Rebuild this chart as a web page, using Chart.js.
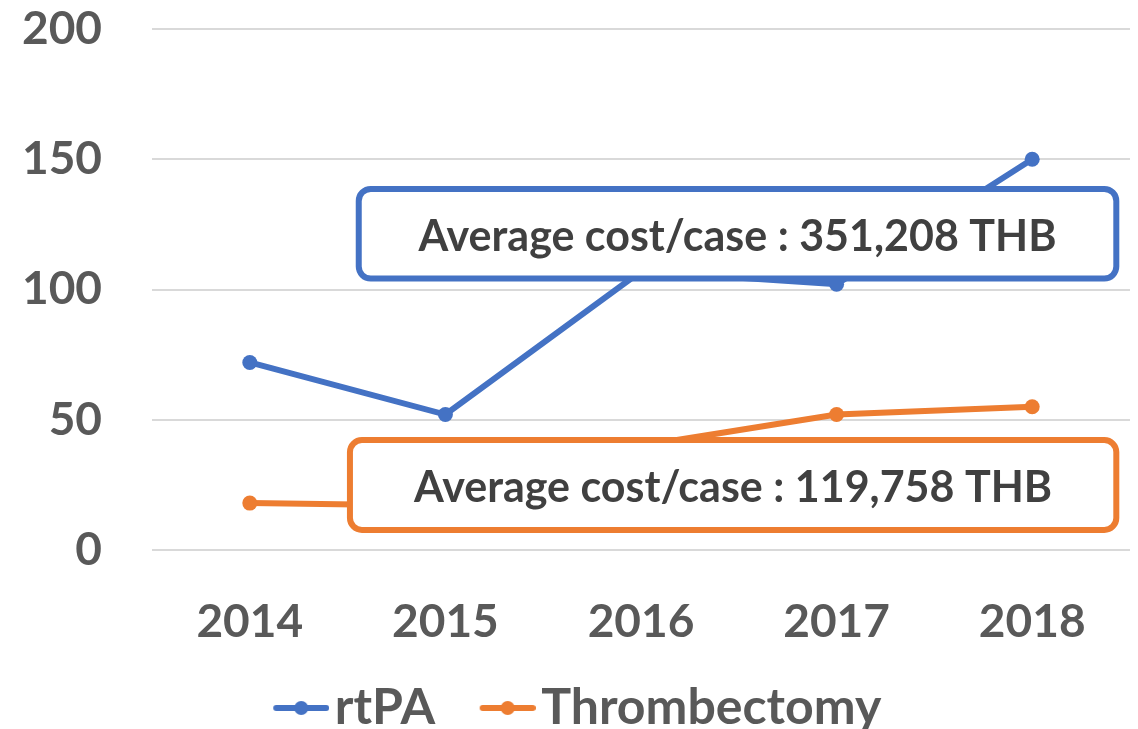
<!DOCTYPE html>
<html>
<head>
<meta charset="utf-8">
<script src="https://cdn.jsdelivr.net/npm/chart.js@4"></script>
<style>
  html, body { margin: 0; padding: 0; background: #fff; }
  #wrap { width: 1138px; height: 729px; }
</style>
</head>
<body>
<div id="wrap"><canvas id="myChart" width="1138" height="729"></canvas></div>
<script>
// data
var years = ["2014", "2015", "2016", "2017", "2018"];
var rtpa = [72, 52, 107, 102, 150];
var thrombectomy = [18, 17, 40, 52, 55];
var yTicks = [0, 50, 100, 150, 200];
var notes = ["Average cost/case : 351,208 THB", "Average cost/case : 119,758 THB"];

var BLUE = "#4472C4";
var ORANGE = "#ED7D31";
var FONT = "Lato, 'Open Sans', sans-serif";

// line + dot glyph for the legend, drawn on the right part of a wider canvas
function legendMark(color) {
  var c = document.createElement("canvas");
  c.width = 100;
  c.height = 18;
  var g = c.getContext("2d");
  g.strokeStyle = color;
  g.lineWidth = 6;
  g.lineCap = "round";
  g.beginPath();
  g.moveTo(47, 9);
  g.lineTo(97, 9);
  g.stroke();
  g.fillStyle = color;
  g.beginPath();
  g.arc(72, 9, 7, 0, Math.PI * 2);
  g.fill();
  return c;
}

// white boxes with rounded border, placed in data space
var noteBoxes = {
  id: "noteBoxes",
  afterDatasetsDraw: function (chart, args, opts) {
    var ctx = chart.ctx;
    var xs = chart.scales.x;
    var ys = chart.scales.y;
    opts.boxes.forEach(function (b) {
      var left = xs.getPixelForValue(b.x0);
      var right = xs.getPixelForValue(b.x1);
      var top = ys.getPixelForValue(b.y1);
      var bottom = ys.getPixelForValue(b.y0);
      ctx.save();
      ctx.beginPath();
      ctx.roundRect(left, top, right - left, bottom - top, 12);
      ctx.fillStyle = "#fff";
      ctx.fill();
      ctx.lineWidth = 6;
      ctx.strokeStyle = b.color;
      ctx.stroke();
      ctx.fillStyle = "#404040";
      ctx.font = "bold 43px " + FONT;
      ctx.textAlign = "center";
      ctx.textBaseline = "middle";
      ctx.fillText(b.text, (left + right) / 2, (top + bottom) / 2 + 3);
      ctx.restore();
    });
  }
};

var ctx = document.getElementById("myChart").getContext("2d");
// eslint-disable-next-line no-undef
var myChart = new Chart(ctx, {
  type: "line",
  data: {
    labels: years,
    datasets: [
      {
        label: "rtPA",
        data: rtpa,
        borderColor: BLUE,
        backgroundColor: BLUE,
        borderWidth: 6,
        pointRadius: 7.5,
        pointHoverRadius: 7.5,
        pointBorderWidth: 0,
        tension: 0,
      },
      {
        label: "Thrombectomy",
        data: thrombectomy,
        borderColor: ORANGE,
        backgroundColor: ORANGE,
        borderWidth: 6,
        pointRadius: 7.5,
        pointHoverRadius: 7.5,
        pointBorderWidth: 0,
        tension: 0,
      },
    ],
  },
  options: {
    responsive: false,
    animation: false,
    layout: { padding: { top: 29, right: 8, left: 0, bottom: -14 } },
    scales: {
      x: {
        offset: true,
        grid: { display: false },
        border: { display: false },
        ticks: {
          color: "#595959",
          font: { family: FONT, size: 46, weight: "bold" },
          padding: 37,
        },
        afterFit: function (scale) {
          scale.height = 113;
        },
      },
      y: {
        min: 0,
        max: 200,
        afterBuildTicks: function (axis) {
          axis.ticks = yTicks.map(function (v) { return { value: v }; });
        },
        grid: {
          color: "#d9d9d9",
          lineWidth: 2,
          drawTicks: true,
          tickLength: 50,
          tickColor: "rgba(0,0,0,0)",
        },
        border: { display: false },
        ticks: {
          color: "#595959",
          font: { family: FONT, size: 46, weight: "bold" },
          padding: 0,
        },
        afterFit: function (scale) {
          scale.width = 152;
        },
      },
    },
    plugins: {
      tooltip: { enabled: false },
      legend: {
        position: "bottom",
        labels: {
          usePointStyle: true,
          pointStyleWidth: 61,
          color: "#595959",
          font: { family: FONT, size: 50, weight: "bold" },
          padding: 20,
          generateLabels: function (chart) {
            return chart.data.datasets.map(function (ds, i) {
              return {
                text: ds.label,
                fontColor: "#595959",
                pointStyle: legendMark(ds.borderColor),
                lineWidth: 0,
                strokeStyle: "transparent",
                fillStyle: ds.borderColor,
                datasetIndex: i,
              };
            });
          },
        },
      },
      noteBoxes: {
        boxes: [
          { x0: 0.557, x1: 4.43, y0: 104.2, y1: 138.6, color: BLUE, text: notes[0] },
          { x0: 0.512, x1: 4.43, y0: 7.7, y1: 42.2, color: ORANGE, text: notes[1] },
        ],
      },
    },
  },
  plugins: [noteBoxes],
});
</script>
</body>
</html>
